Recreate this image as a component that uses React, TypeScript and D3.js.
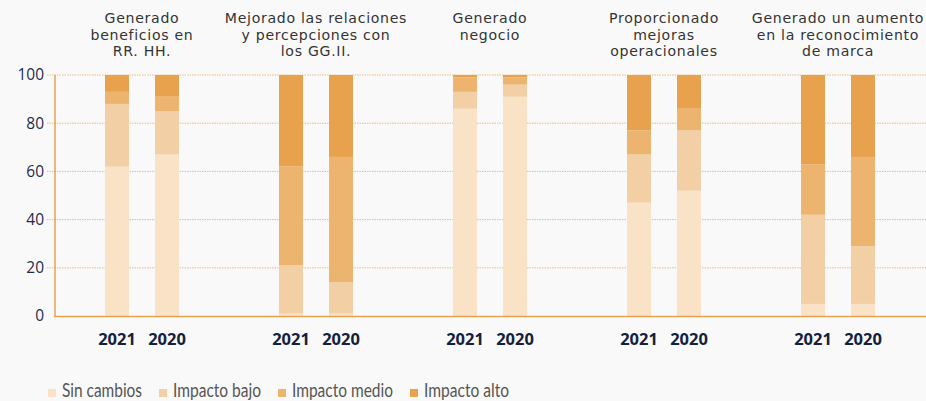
import React from "react";
import * as d3 from "d3";

const categories = [
  ["Generado", "beneficios en", "RR. HH."],
  ["Mejorado las relaciones", "y percepciones con", "los GG.II."],
  ["Generado", "negocio"],
  ["Proporcionado", "mejoras", "operacionales"],
  ["Generado un aumento", "en la reconocimiento", "de marca"],
];
const years = ["2021", "2020"];
// order: for each category, 2021 then 2020
const sinCambios = [62, 67, 1, 1, 86, 91, 47, 52, 5, 5];
const impactoBajo = [26, 18, 20, 13, 7, 5, 20, 25, 37, 24];
const impactoMedio = [5, 6, 41, 52, 6, 3, 10, 9, 21, 37];
const impactoAlto = [7, 9, 38, 34, 1, 1, 23, 14, 37, 34];
const seriesNames = ["Sin cambios", "Impacto bajo", "Impacto medio", "Impacto alto"];
const yTicks = [0, 20, 40, 60, 80, 100];

const colors = ["#f9e2c6", "#f3cfa5", "#edb470", "#e8a24d"];

export default function App() {
  const W = 926, H = 401;
  const left = 55, right = 925, top = 75, bottom = 316;
  const catIdx = categories.map((_, i) => String(i));
  const x = d3.scaleBand<string>().domain(catIdx).range([left, right]).paddingInner(0).paddingOuter(0);
  const xi = d3.scaleBand<string>().domain(years).range([50, 124]).paddingInner(0.52).paddingOuter(0);
  const y = d3.scaleLinear().domain([0, 100]).range([bottom, top]);

  const rows = categories.flatMap((_, ci) =>
    years.map((yr, yi) => {
      const k = ci * years.length + yi;
      return { cat: String(ci), year: yr, sin: sinCambios[k], bajo: impactoBajo[k], medio: impactoMedio[k], alto: impactoAlto[k] };
    })
  );
  const stack = d3.stack<any>().keys(["sin", "bajo", "medio", "alto"]);
  const stacked = stack(rows);

  const legendX = [48, 159, 278, 410];
  const legendW = [80, 88, 101, 85];

  return (
    <svg width={W} height={H} style={{ position: "absolute", left: 0, top: 0, background: "#f9f9f9" }}>
      <rect x={0} y={0} width={W} height={H} fill="#f9f9f9" />
      {yTicks.map((t) => (
        <g key={t}>
          {t > 0 && (
            <line x1={47} x2={W} y1={y(t)} y2={y(t)} stroke="#e8a24d" strokeOpacity={0.7} strokeWidth={1} strokeDasharray="1.5,1" />
          )}
          <text x={44} y={y(t)} dy="0.35em" textAnchor="end" fontFamily="Open Sans" fontSize={15.5} fill="#1f2b4a">
            {t}
          </text>
        </g>
      ))}
      {stacked.map((s, si) => (
        <g key={si} fill={colors[si]}>
          {s.map((d, di) => (
            <rect
              key={di}
              x={(x(d.data.cat) as number) + (xi(d.data.year) as number)}
              width={xi.bandwidth()}
              y={y(d[1])}
              height={Math.max(0, y(d[0]) - y(d[1]))}
            />
          ))}
        </g>
      ))}
      <line x1={left} x2={left} y1={top} y2={bottom + 1} stroke="#e8a24d" strokeWidth={1.5} />
      <line x1={left - 1} x2={W} y1={bottom + 0.5} y2={bottom + 0.5} stroke="#e8a24d" strokeWidth={1.5} />
      {rows.map((r, i) => (
        <text
          key={i}
          x={(x(r.cat) as number) + (xi(r.year) as number) + xi.bandwidth() / 2}
          y={345}
          textAnchor="middle"
          fontFamily="Open Sans"
          fontWeight={700}
          fontSize={16.5}
          fill="#14213d"
        >
          {r.year}
        </text>
      ))}
      {categories.map((lines, ci) => (
        <text key={ci} textAnchor="middle" fontFamily="DejaVu Sans" fontSize={14.1} letterSpacing={0.7} fill="#333">
          {lines.map((l, li) => (
            <tspan key={li} x={(x(String(ci)) as number) + x.bandwidth() / 2} y={23 + li * 16.5}>
              {l}
            </tspan>
          ))}
        </text>
      ))}
      {seriesNames.map((n, i) => (
        <g key={n}>
          <rect x={legendX[i]} y={389} width={8} height={8} fill={colors[i]} />
          <text
            x={legendX[i] + 14}
            y={397}
            fontFamily="Lato"
            fontSize={19.5}
            textLength={legendW[i]}
            lengthAdjust="spacingAndGlyphs"
            fill="#555"
          >
            {n}
          </text>
        </g>
      ))}
    </svg>
  );
}
